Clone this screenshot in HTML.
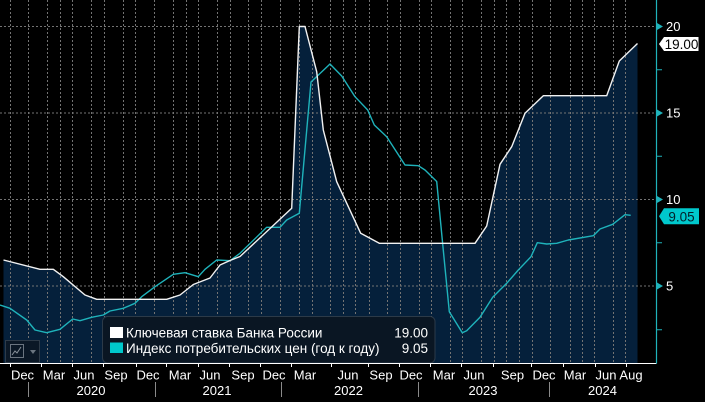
<!DOCTYPE html>
<html><head><meta charset="utf-8">
<style>
html,body{margin:0;padding:0;background:#000;}
svg{display:block;}
text{font-family:"Liberation Sans","Noto Sans CJK SC",sans-serif;}
</style></head>
<body>
<svg width="705" height="402" viewBox="0 0 705 402" xmlns="http://www.w3.org/2000/svg">
<rect x="0" y="0" width="705" height="402" fill="#000"/>
<polygon fill="#05203b" points="3.5,260 40,269.3 53.3,269.3 63.3,276.7 85,295 96.7,299.3 166.7,299.3 180,295 193.3,284.5 210,278 220,265 230,260.5 240,256.5 291.7,208.3 299.3,26.5 305,26.5 316.7,71.7 323.3,130 336.7,181.7 360.7,233.3 379.3,243.3 475,243.3 486.7,226 500,164.3 511.7,146.7 525,113.3 543.3,95.7 606.7,95.7 619.3,61 637.5,43.5 637.5,363 3.5,363"/>
<g stroke="#737373" stroke-width="1" stroke-dasharray="2,2" fill="none">
<line x1="0" y1="26.5" x2="656" y2="26.5"/>
<line x1="0" y1="113" x2="656" y2="113"/>
<line x1="0" y1="199.5" x2="656" y2="199.5"/>
<line x1="0" y1="286" x2="656" y2="286"/>
<line x1="10.5" y1="0" x2="10.5" y2="363"/>
<line x1="28.5" y1="0" x2="28.5" y2="363"/>
<line x1="47.5" y1="0" x2="47.5" y2="363"/>
<line x1="60.5" y1="0" x2="60.5" y2="363"/>
<line x1="72.5" y1="0" x2="72.5" y2="363"/>
<line x1="91.5" y1="0" x2="91.5" y2="363"/>
<line x1="104.5" y1="0" x2="104.5" y2="363"/>
<line x1="123.5" y1="0" x2="123.5" y2="363"/>
<line x1="135.5" y1="0" x2="135.5" y2="363"/>
<line x1="154.5" y1="0" x2="154.5" y2="363"/>
<line x1="173.5" y1="0" x2="173.5" y2="363"/>
<line x1="186.5" y1="0" x2="186.5" y2="363"/>
<line x1="198.5" y1="0" x2="198.5" y2="363"/>
<line x1="217.5" y1="0" x2="217.5" y2="363"/>
<line x1="230.5" y1="0" x2="230.5" y2="363"/>
<line x1="248.5" y1="0" x2="248.5" y2="363"/>
<line x1="261.5" y1="0" x2="261.5" y2="363"/>
<line x1="280.5" y1="0" x2="280.5" y2="363"/>
<line x1="299.5" y1="0" x2="299.5" y2="363"/>
<line x1="312.5" y1="0" x2="312.5" y2="363"/>
<line x1="330.5" y1="0" x2="330.5" y2="363"/>
<line x1="343.5" y1="0" x2="343.5" y2="363"/>
<line x1="355.5" y1="0" x2="355.5" y2="363"/>
<line x1="369.5" y1="0" x2="369.5" y2="363"/>
<line x1="387.5" y1="0" x2="387.5" y2="363"/>
<line x1="400.5" y1="0" x2="400.5" y2="363"/>
<line x1="419.5" y1="0" x2="419.5" y2="363"/>
<line x1="431.5" y1="0" x2="431.5" y2="363"/>
<line x1="450.5" y1="0" x2="450.5" y2="363"/>
<line x1="462.5" y1="0" x2="462.5" y2="363"/>
<line x1="481.5" y1="0" x2="481.5" y2="363"/>
<line x1="494.5" y1="0" x2="494.5" y2="363"/>
<line x1="506.5" y1="0" x2="506.5" y2="363"/>
<line x1="519.5" y1="0" x2="519.5" y2="363"/>
<line x1="532.5" y1="0" x2="532.5" y2="363"/>
<line x1="550.5" y1="0" x2="550.5" y2="363"/>
<line x1="570.5" y1="0" x2="570.5" y2="363"/>
<line x1="582.5" y1="0" x2="582.5" y2="363"/>
<line x1="594.5" y1="0" x2="594.5" y2="363"/>
<line x1="613.5" y1="0" x2="613.5" y2="363"/>
<line x1="625.5" y1="0" x2="625.5" y2="363"/>
</g>
<polyline fill="none" stroke="#1fb3bb" stroke-width="1.4" stroke-linejoin="round" points="0,305 10,308.3 26.7,320 35,330 46.7,332.7 60,329.3 72.7,319 80,320.7 91.7,317.3 103.3,315 110,311 123.3,308.3 135,303.3 141.7,296.7 155,286.7 173.3,274.3 185,272.7 198.3,276.7 205,269.3 216.7,260 230,260.7 240,253.3 266.7,227.3 280,227.3 286.7,220 299.3,213.3 311,82 330,64 341.7,76 355,96.7 367.7,110 374.3,125 386.7,136.7 405,165 418.3,165.7 425,170 436.7,181.5 442.3,240 449.3,311.7 462.3,332.7 466.7,330.7 480,317.3 492.7,297.3 506.7,283.3 518.3,270 531,256.7 537.3,242.7 546.7,244 556.7,243.3 568.3,240 593.3,235.7 600,229 612.7,224.3 625,214.7 630.7,215.3"/>
<polyline fill="none" stroke="#f2f2f2" stroke-width="1.4" stroke-linejoin="round" points="3.5,260 40,269.3 53.3,269.3 63.3,276.7 85,295 96.7,299.3 166.7,299.3 180,295 193.3,284.5 210,278 220,265 230,260.5 240,256.5 291.7,208.3 299.3,26.5 305,26.5 316.7,71.7 323.3,130 336.7,181.7 360.7,233.3 379.3,243.3 475,243.3 486.7,226 500,164.3 511.7,146.7 525,113.3 543.3,95.7 606.7,95.7 619.3,61 637.5,43.5"/>
<rect x="102.5" y="316.5" width="332.5" height="46.5" rx="5" ry="5" fill="#0a1623" stroke="#2c3a48" stroke-width="1"/>
<rect x="110" y="327" width="13" height="11" fill="#ffffff"/>
<rect x="110" y="342.5" width="13" height="10.5" fill="#00c8cc"/>
<text x="126" y="337.5" font-size="13.5" fill="#ffffff">Ключевая ставка Банка России</text>
<text x="126" y="353" font-size="13.5" fill="#ffffff">Индекс потребительских цен (год к году)</text>
<text x="428" y="337.5" font-size="13.5" fill="#ffffff" text-anchor="end">19.00</text>
<text x="428" y="353" font-size="13.5" fill="#ffffff" text-anchor="end">9.05</text>
<rect x="5.5" y="340.5" width="34" height="22" fill="#0b1826" stroke="#2e3b48"/>
<rect x="10.5" y="344.5" width="13" height="13" fill="none" stroke="#6b7580"/>
<polyline points="12,355 15,351 17,353 21,347" fill="none" stroke="#8a939c" stroke-width="1"/>
<polygon points="30,350 36,350 33,354" fill="#6b7580"/>
<line x1="0" y1="363.5" x2="656.5" y2="363.5" stroke="#ffffff" stroke-width="1"/>
<g stroke="#ffffff" stroke-width="1">
<line x1="10.5" y1="363" x2="10.5" y2="367"/>
<line x1="41.5" y1="363" x2="41.5" y2="367"/>
<line x1="72.5" y1="363" x2="72.5" y2="367"/>
<line x1="103.5" y1="363" x2="103.5" y2="367"/>
<line x1="136.5" y1="363" x2="136.5" y2="367"/>
<line x1="166.5" y1="363" x2="166.5" y2="367"/>
<line x1="198.5" y1="363" x2="198.5" y2="367"/>
<line x1="229.5" y1="363" x2="229.5" y2="367"/>
<line x1="260.5" y1="363" x2="260.5" y2="367"/>
<line x1="291.5" y1="363" x2="291.5" y2="367"/>
<line x1="331.5" y1="363" x2="331.5" y2="367"/>
<line x1="368.5" y1="363" x2="368.5" y2="367"/>
<line x1="399.5" y1="363" x2="399.5" y2="367"/>
<line x1="430.5" y1="363" x2="430.5" y2="367"/>
<line x1="461.5" y1="363" x2="461.5" y2="367"/>
<line x1="493.5" y1="363" x2="493.5" y2="367"/>
<line x1="531.5" y1="363" x2="531.5" y2="367"/>
<line x1="563.5" y1="363" x2="563.5" y2="367"/>
<line x1="595.5" y1="363" x2="595.5" y2="367"/>
<line x1="626.5" y1="363" x2="626.5" y2="367"/>
</g>
<g font-size="13" fill="#ffffff" text-anchor="middle">
<text x="22.5" y="379.5">Dec</text>
<text x="54" y="379.5">Mar</text>
<text x="84" y="379.5">Jun</text>
<text x="116" y="379.5">Sep</text>
<text x="148" y="379.5">Dec</text>
<text x="180" y="379.5">Mar</text>
<text x="210" y="379.5">Jun</text>
<text x="243" y="379.5">Sep</text>
<text x="274" y="379.5">Dec</text>
<text x="305" y="379.5">Mar</text>
<text x="348" y="379.5">Jun</text>
<text x="381" y="379.5">Sep</text>
<text x="411" y="379.5">Dec</text>
<text x="444" y="379.5">Mar</text>
<text x="474" y="379.5">Jun</text>
<text x="512.5" y="379.5">Sep</text>
<text x="544" y="379.5">Dec</text>
<text x="575" y="379.5">Mar</text>
<text x="606" y="379.5">Jun</text>
<text x="631" y="379.5">Aug</text>
<text x="91" y="395">2020</text>
<text x="217" y="395">2021</text>
<text x="348.5" y="395">2022</text>
<text x="483" y="395">2023</text>
<text x="602.5" y="395">2024</text>
</g>
<g stroke="#8a8a8a" stroke-width="1">
<line x1="28.5" y1="382" x2="28.5" y2="397"/>
<line x1="155.5" y1="382" x2="155.5" y2="397"/>
<line x1="281.5" y1="382" x2="281.5" y2="397"/>
<line x1="418.5" y1="382" x2="418.5" y2="397"/>
<line x1="549.5" y1="382" x2="549.5" y2="397"/>
</g>
<line x1="656.5" y1="0" x2="656.5" y2="363.5" stroke="#1fb3bb" stroke-width="1.2"/>
<g fill="#1fb3bb">
<polygon points="657,23 663,26.5 657,30"/>
<polygon points="657,109.5 663,113 657,116.5"/>
<polygon points="657,196 663,199.5 657,203"/>
<polygon points="657,282.5 663,286 657,289.5"/>
</g>
<g stroke="#1fb3bb" stroke-width="1">
<line x1="657" y1="69.75" x2="662" y2="69.75"/>
<line x1="657" y1="156.25" x2="662" y2="156.25"/>
<line x1="657" y1="242.75" x2="662" y2="242.75"/>
<line x1="657" y1="329.75" x2="662" y2="329.75"/>
</g>
<g font-size="13" fill="#ffffff">
<text x="666" y="31">20</text>
<text x="666" y="117.5">15</text>
<text x="666" y="204">10</text>
<text x="666" y="290.5">5</text>
</g>
<polygon points="659,44 664,37 698.5,37 698.5,51 664,51" fill="#ffffff"/>
<text x="681.5" y="49" font-size="13.5" fill="#000" text-anchor="middle">19.00</text>
<polygon points="659,216.3 664,208.3 699,208.3 699,224.3 664,224.3" fill="#00c8cc"/>
<text x="681.5" y="221.3" font-size="13.5" fill="#03202a" text-anchor="middle">9.05</text>
</svg>
</body></html>
